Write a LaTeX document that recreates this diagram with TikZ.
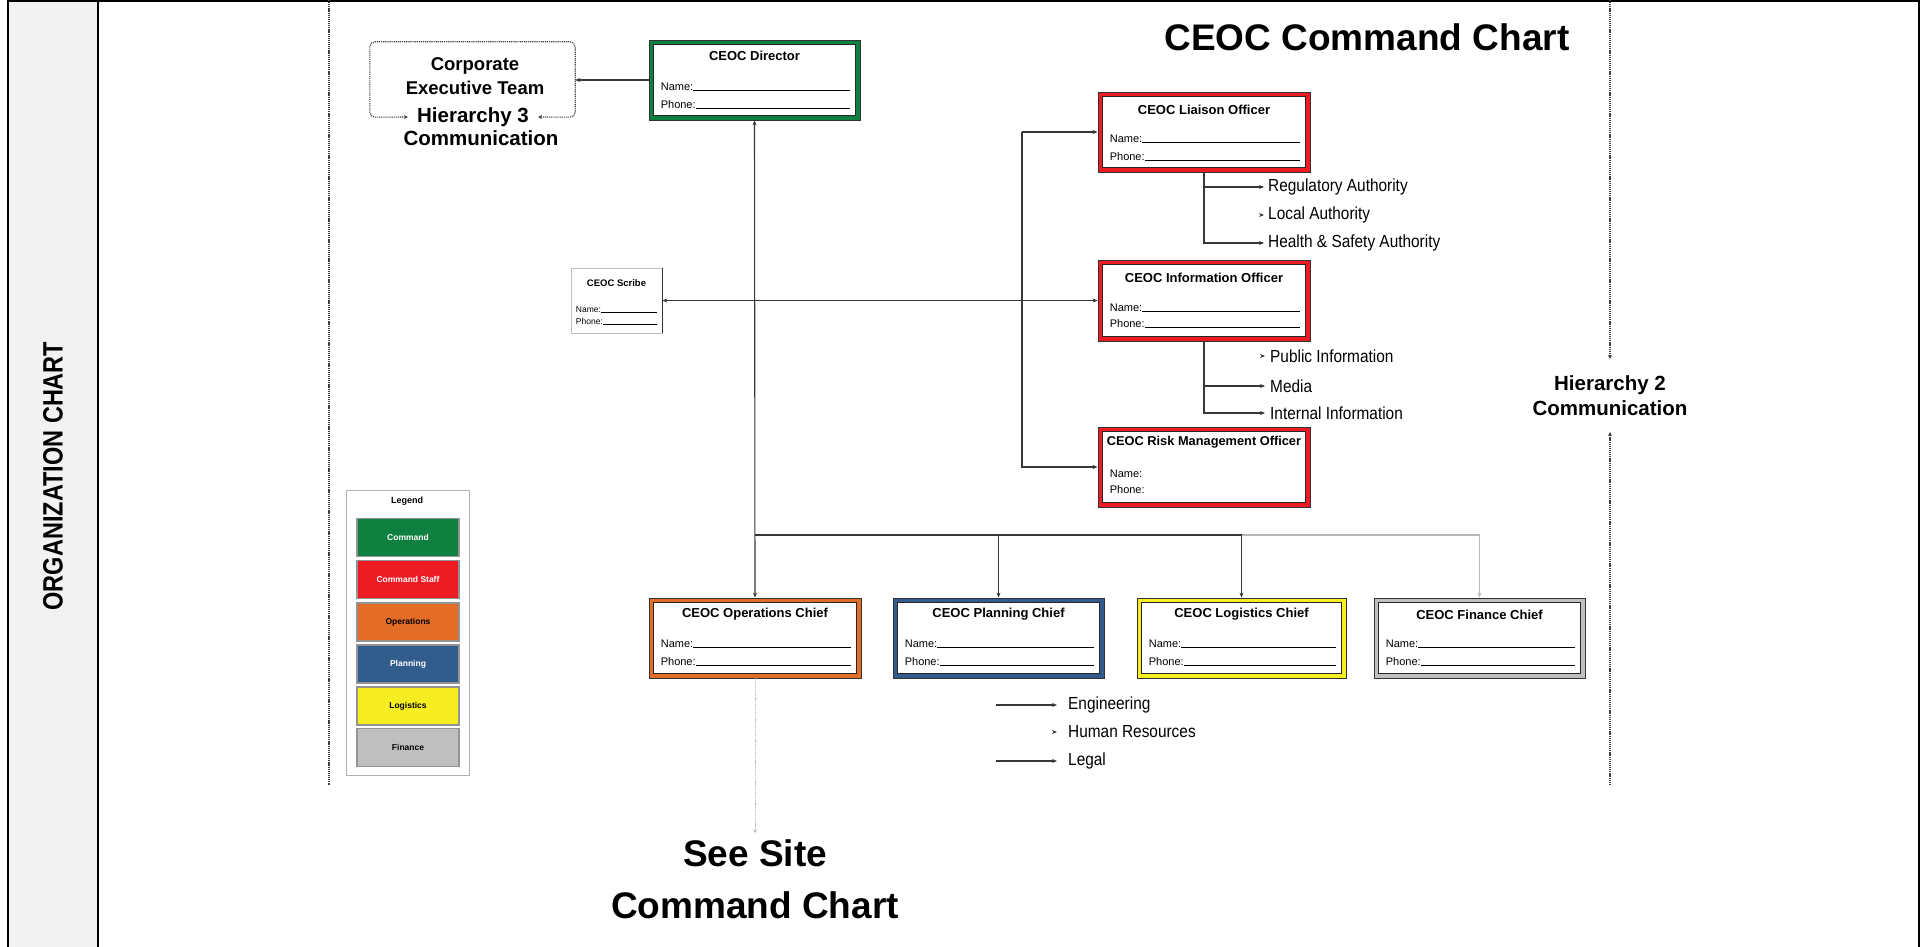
\documentclass[tikz,border=0pt]{standalone}
\usepackage{fontspec}
\setmainfont{Liberation Sans}
\newfontfamily\narrowf[FakeStretch=0.88]{Liberation Sans}
\newfontfamily\condf[FakeStretch=0.84]{Liberation Sans}
\usetikzlibrary{arrows.meta,calc}
\definecolor{cmdgreen}{RGB}{16,128,64}
\definecolor{staffred}{RGB}{237,28,36}
\definecolor{opsorange}{RGB}{227,108,38}
\definecolor{planblue}{RGB}{50,92,140}
\definecolor{logyellow}{RGB}{246,238,33}
\definecolor{fingray}{RGB}{191,191,191}
\definecolor{panelgray}{RGB}{242,242,242}
\definecolor{linegray}{RGB}{55,55,55}
\newcommand\myfs[1]{\fontsize{#1}{#1}\selectfont}
\newcommand\cbox[6]{%
  \node[cboxs=#6, minimum width={#4-#2}, minimum height={#5-#3}] (#1) at ({(#2+#4)/2},{(#3+#5)/2}) {};
  \path[innerb] ($(#1.north west)+(4.5,4.5)$) rectangle ($(#1.south east)+(-4.5,-4.5)$);
}
\newcommand\fields[3]{%
  \node[fieldl, anchor=base west] (#1-n) at ($(#1.north west)+(12,#2)$) {Name:};
  \draw[uline] (#1-n.base east) -- ($(#1.north east)+(-10,#2)$);
  \node[fieldl, anchor=base west] (#1-p) at ($(#1.north west)+(12,#3)$) {Phone:};
  \draw[uline] (#1-p.base east) -- ($(#1.north east)+(-10,#3)$);
}
\begin{document}
\begin{tikzpicture}[x=1pt,y=-1pt,
  conn/.style={draw=linegray, line width=1.1pt},
  arr/.style={conn, -{Stealth[length=5pt,width=4pt]}},
  darr/.style={conn, {Stealth[length=5pt,width=4pt]}-{Stealth[length=5pt,width=4pt]}},
  dotl/.style={draw=black!75, dash pattern=on 1.2pt off 0.9pt, line width=1.1pt},
  cboxs/.style={draw=black!80, line width=0.8pt, fill=#1, inner sep=0pt},
  innerb/.style={draw=black!85, line width=0.9pt, fill=white},
  btitle/.style={font=\bfseries\myfs{13}, inner sep=0pt},
  fieldl/.style={font=\myfs{11}, inner sep=0pt},
  uline/.style={draw=black, line width=0.7pt},
  subitem/.style={font=\narrowf\myfs{17.5}, inner sep=0pt, anchor=west},
  legitem/.style={draw=gray!85, line width=1.4pt, fill=#1, minimum width=102pt, minimum height=38pt, font=\bfseries\myfs{8.5}, inner sep=0pt},
  bigtxt/.style={font=\bfseries\myfs{37}, inner sep=0pt},
  hiertxt/.style={font=\bfseries\myfs{20.5}, inner sep=0pt},
]
\useasboundingbox (0,0) rectangle (1927,947);

% frame and side panel
\fill[panelgray] (8,0) rectangle (98,947);
\draw[line width=2.5pt] (8,947) -- (8,1) -- (1919,1) -- (1919,947);
\draw[line width=2.5pt] (98,1) -- (98,947);
\node[rotate=90, font=\condf\bfseries\myfs{28}, inner sep=0pt] (orgt) at (53,476) {ORGANIZATION CHART};

% dotted side line
\draw[dotl] (329,0) -- (329,785);

% title
\node[bigtxt] (title) at (1367,37) {CEOC Command Chart};

% Corporate executive team
\node[minimum width=205pt, minimum height=75pt, inner sep=0pt] (corpbox) at (472.5,79.5) {};
\node[font=\bfseries\myfs{18.5}, align=center, inner sep=0pt] (corp) at (475,76) {Corporate\\[5pt]Executive Team};
\node[hiertxt, inner xsep=9pt] (h3) at (473,117) {Hierarchy 3};
\node[hiertxt] (h3b) at (481,138) {Communication};
\draw[dotl, rounded corners=5pt, {Stealth[length=4pt,width=4pt]}-{Stealth[length=4pt,width=4pt]}]
  (h3.west) -- (corpbox.south west) -- (corpbox.north west) -- (corpbox.north east) -- (corpbox.south east) -- (h3.east);

% boxes
\cbox{dir}{649}{40}{860}{120}{cmdgreen}
\node[btitle] at ($(dir.north)+(0,16)$) {CEOC Director};
\fields{dir}{51}{69}

\cbox{liaison}{1098}{92}{1310}{172}{staffred}
\node[btitle] at ($(liaison.north)+(0,18)$) {CEOC Liaison Officer};
\fields{liaison}{51}{69}

\cbox{info}{1098}{260}{1310}{341}{staffred}
\node[btitle] at ($(info.north)+(0,18)$) {CEOC Information Officer};
\fields{info}{52}{68}

\cbox{risk}{1098}{427}{1310}{507}{staffred}
\node[btitle, font=\bfseries\myfs{12.8}] at ($(risk.north)+(0,16)$) {CEOC Risk Management Officer};
\node[fieldl, anchor=base west] (risk-n) at ($(risk.north west)+(12,51)$) {Name:};
\node[fieldl, anchor=base west] (risk-p) at ($(risk.north west)+(12,67)$) {Phone:};

\cbox{ops}{649}{598}{861}{678}{opsorange}
\node[btitle] at ($(ops.north)+(0,17)$) {CEOC Operations Chief};
\fields{ops}{50}{68}

\cbox{plan}{893}{598}{1104}{678}{planblue}
\node[btitle] at ($(plan.north)+(0,17)$) {CEOC Planning Chief};
\fields{plan}{50}{68}

\cbox{log}{1137}{598}{1346}{678}{logyellow}
\node[btitle] at ($(log.north)+(0,17)$) {CEOC Logistics Chief};
\fields{log}{50}{68}

\cbox{fin}{1374}{598}{1585}{678}{fingray}
\node[btitle] at ($(fin.north)+(0,17)$) {CEOC Finance Chief};
\fields{fin}{50}{68}

% scribe
\node[draw=black!25, line width=0.6pt, fill=white, minimum width=91pt, minimum height=65pt, inner sep=0pt] (scribe) at (616.5,300.5) {};
\draw[black!80, line width=0.8pt] (scribe.north east) -- (scribe.south east);
\node[font=\bfseries\myfs{9.5}, inner sep=0pt] at ($(scribe.north)+(0,15)$) {CEOC Scribe};
\node[font=\myfs{8.5}, inner sep=0pt, anchor=base west] (scribe-n) at ($(scribe.north west)+(5,45)$) {Name:};
\draw[uline] (scribe-n.base east) -- ($(scribe.north east)+(-5,45)$);
\node[font=\myfs{8.5}, inner sep=0pt, anchor=base west] (scribe-p) at ($(scribe.north west)+(5,57)$) {Phone:};
\draw[uline] (scribe-p.base east) -- ($(scribe.north east)+(-5,57)$);

% main connectors
\draw[arr] (dir.west) -- (dir.west -| corpbox.east);
\draw[darr] (dir.south) -- (ops.north);
\coordinate (bus) at (755,535);
\draw[arr] (bus) -| (plan.north);
\draw[arr] (bus) -| (log.north);
\draw[arr, draw=gray!55] (bus) -| (fin.north);
\draw[conn] (bus) -- (log.north |- bus);
\coordinate (bartop) at (1022,132);
\draw[arr] (bartop) -- (liaison.west);
\draw[arr] (bartop) |- (risk.west);
\draw[darr] (scribe.east) -- (info.west);

% liaison sub items
\node[subitem] (reg) at (1268,187) {Regulatory Authority};
\node[subitem] (loc) at (1268,215) {Local Authority};
\node[subitem] (hsa) at (1268,243) {Health \& Safety Authority};
\draw[arr] (liaison.south) |- ($(reg.west)+(-4,0)$);
\draw[arr] (liaison.south) |- ($(hsa.west)+(-4,0)$);
\draw[arr] ($(loc.west)+(-7,0)$) -- ($(loc.west)+(-4,0)$);

% information sub items
\node[subitem] (pub) at (1270,356) {Public Information};
\node[subitem] (media) at (1270,386) {Media};
\node[subitem] (intl) at (1270,413) {Internal Information};
\draw[arr] (info.south) |- ($(media.west)+(-5,0)$);
\draw[arr] (info.south) |- ($(intl.west)+(-5,0)$);
\draw[arr] ($(pub.west)+(-8,0)$) -- ($(pub.west)+(-5,0)$);

% planning sub items
\node[subitem] (eng) at (1068,705) {Engineering};
\node[subitem] (hr) at (1068,732) {Human Resources};
\node[subitem] (legal) at (1068,761) {Legal};
\coordinate (engs) at (996,705);
\coordinate (legals) at (996,761);
\draw[arr] (engs) -- ($(eng.west)+(-11,0)$);
\draw[arr] (legals) -- ($(legal.west)+(-11,0)$);
\draw[arr] ($(hr.west)+(-14,0)$) -- ($(hr.west)+(-11,0)$);

% see site
\node[bigtxt] (site1) at (755,853) {See Site};
\node[bigtxt] (site2) at (755,905) {Command Chart};
\draw[draw=gray!55, dash pattern=on 1.2pt off 0.9pt, line width=1pt, -{Stealth[length=4pt,width=4pt]}] (ops.south) -- ($(site1.north)+(0,-6)$);

% hierarchy 2
\node[hiertxt, align=center, inner ysep=16pt] (h2) at (1610,395.5) {Hierarchy 2\\[5pt]Communication};
\coordinate (h2top) at (1610,0);
\coordinate (h2bot) at (1610,785);
\draw[dotl, -{Stealth[length=4pt,width=4pt]}] (h2top) -- (h2.north);
\draw[dotl, -{Stealth[length=4pt,width=4pt]}] (h2bot) -- (h2.south);

% legend
\node[draw=gray!60, line width=1pt, fill=white, minimum width=123pt, minimum height=285pt, inner sep=0pt] (legend) at (407.5,632.5) {};
\node[font=\bfseries\myfs{9}, inner sep=0pt] (legt) at (407,501) {Legend};
\node[legitem=cmdgreen, text=white] (lg1) at (408,537.5) {Command};
\node[legitem=staffred, text=white] (lg2) at (408,579.5) {Command Staff};
\node[legitem=opsorange, text=black] (lg3) at (408,622) {Operations};
\node[legitem=planblue, text=white] (lg4) at (408,664) {Planning};
\node[legitem=logyellow, text=black] (lg5) at (408,706) {Logistics};
\node[legitem=fingray, text=black] (lg6) at (408,747.5) {Finance};
\end{tikzpicture}
\end{document}
